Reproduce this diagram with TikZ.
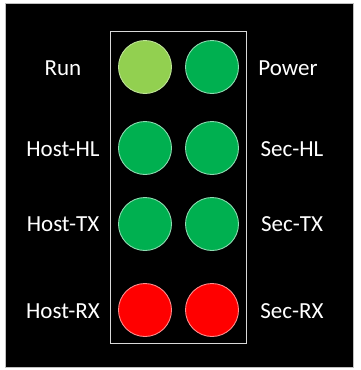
\documentclass[tikz,border=0pt]{standalone}
\usepackage{fontspec}
\setmainfont{Carlito}
\definecolor{ledlime}{HTML}{92D050}
\definecolor{ledgreen}{HTML}{00B050}
\definecolor{ledred}{HTML}{FF0000}
\definecolor{frgray}{HTML}{BFBFBF}

\tikzset{
  led/.style={circle, minimum size=53pt, inner sep=0pt, line width=0.9pt},
  ledtag/.style={text=white, anchor=base, inner sep=0pt,
    font=\fontsize{23}{27}\selectfont}
}

\begin{document}
\begin{tikzpicture}[x=1pt, y=-1pt]

% ============================================================
% Background and frames (pixel grid, y downwards)
% ============================================================
\useasboundingbox (0,0) rectangle (360,370);
\fill[white] (0,0) rectangle (360,370);
\filldraw[fill=black, draw=frgray, line width=0.8pt] (5,3) rectangle (353,367);

% Panel frame round the LEDs
\draw[white!85!black, line width=0.8pt] (110,31) rectangle (246,343);

% ============================================================
% LEDs: left column x=145, right column x=212
% ============================================================
\node[led, fill=ledlime, draw=ledlime!60!white] (run) at (145,67) {};
\node[led, fill=ledgreen, draw=ledgreen!45!white] (power) at (212,67) {};

\foreach \n/\x in {hosthl/145, sechl/212} {
  \node[led, fill=ledgreen, draw=ledgreen!45!white] (\n) at (\x,148) {};
}
\foreach \n/\x in {hosttx/145, sectx/212} {
  \node[led, fill=ledgreen, draw=ledgreen!45!white] (\n) at (\x,224) {};
}
\foreach \n/\x in {hostrx/145, secrx/212} {
  \node[led, fill=ledred, draw=ledred!45!white] (\n) at (\x,310) {};
}

% ============================================================
% Labels (baseline about 7.5pt under the LED centre)
% ============================================================
\node[ledtag] (runlbl) at (63,75) {Run};
\node[ledtag] (hosthllbl) at (63,156) {Host-HL};
\node[ledtag] (hosttxlbl) at (63,231) {Host-TX};
\node[ledtag] (hostrxlbl) at (63,318) {Host-RX};

\node[ledtag] (powerlbl) at (288,75) {Power};
\node[ledtag] (sechllbl) at (292,156) {Sec-HL};
\node[ledtag] (sectxlbl) at (292,231) {Sec-TX};
\node[ledtag] (secrxlbl) at (292,318) {Sec-RX};

\end{tikzpicture}
\end{document}
